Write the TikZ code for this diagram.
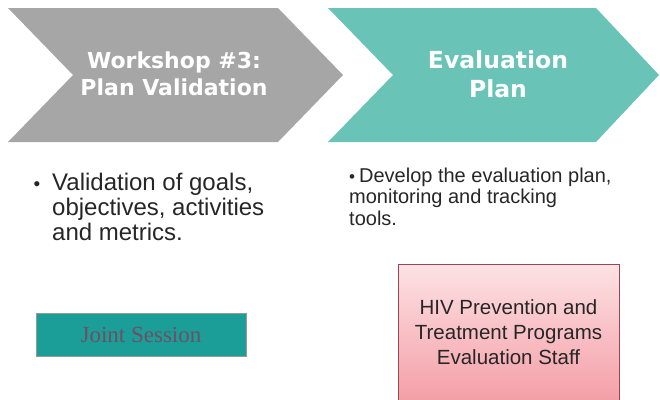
\documentclass[tikz,border=0pt]{standalone}
\usepackage{fontspec}
\setmainfont{Liberation Sans}
\newfontfamily\headfont{DejaVu Sans}
\newfontfamily\jointfont{Liberation Serif}

\definecolor{chevgray}{HTML}{A6A6A6}
\definecolor{chevteal}{HTML}{69C4B7}
\definecolor{jointteal}{HTML}{1B9E98}
\definecolor{jointtext}{HTML}{6E4F62}
\definecolor{staffedge}{HTML}{9E4452}
\definecolor{stafftop}{HTML}{FDE2E4}
\definecolor{staffbot}{HTML}{F2909A}
\definecolor{bodytext}{HTML}{262626}

\newcommand{\smallbul}[1]{{\fontsize{#1}{#1}\selectfont\textbullet}}

\begin{document}
\begin{tikzpicture}[x=1pt,y=-1pt,
  head/.style={align=center,text=white,inner sep=0pt},
  bul/.style={align=left,text=bodytext,inner sep=0pt,anchor=base west},
  joint/.style={draw=gray!80,fill=jointteal,text=jointtext,
    minimum width=210pt,minimum height=43pt,inner sep=0pt,
    font=\jointfont\fontsize{23}{24}\selectfont},
  staff/.style={draw=staffedge,line width=1pt,top color=stafftop,bottom color=staffbot}]

  \useasboundingbox (0,0) rectangle (660,399);
  \clip (0,0) rectangle (660,399);

  % Chevrons
  \fill[chevgray] (8,8) -- (278,8) -- (343,75) -- (278,142) -- (8,142) -- (73,75) -- cycle;
  \fill[chevteal] (328,8) -- (596,8) -- (659,75) -- (596,142) -- (328,142) -- (393,75) -- cycle;

  % Define nodes
  \node[head, anchor=base, font=\headfont\bfseries\fontsize{22}{27}\selectfont]
    (ws) at (174,95) {Workshop \#3:\\Plan Validation};
  \node[head, anchor=base, font=\headfont\bfseries\fontsize{23.5}{29}\selectfont]
    (ep) at (498,97) {Evaluation\\Plan};

  \node[bul, font=\fontsize{24}{25}\selectfont]
    (val) at (52,240) {\llap{\smallbul{19}\hspace{12pt}}Validation of goals,\\objectives, activities\\and metrics.};
  \node[bul, font=\fontsize{20}{21.5}\selectfont]
    (dev) at (349,225) {\smallbul{17}\hspace{4pt}Develop the evaluation plan,\\monitoring and tracking\\tools.};

  \node[joint] (js) at (141,334.5) {Joint Session};

  \draw[staff] (398,264) rectangle (619,430);
  \node[align=center, text=bodytext, font=\fontsize{20.5}{25}\selectfont]
    (staff) at (508.5,332) {HIV Prevention and\\Treatment Programs\\Evaluation Staff};

\end{tikzpicture}
\end{document}
